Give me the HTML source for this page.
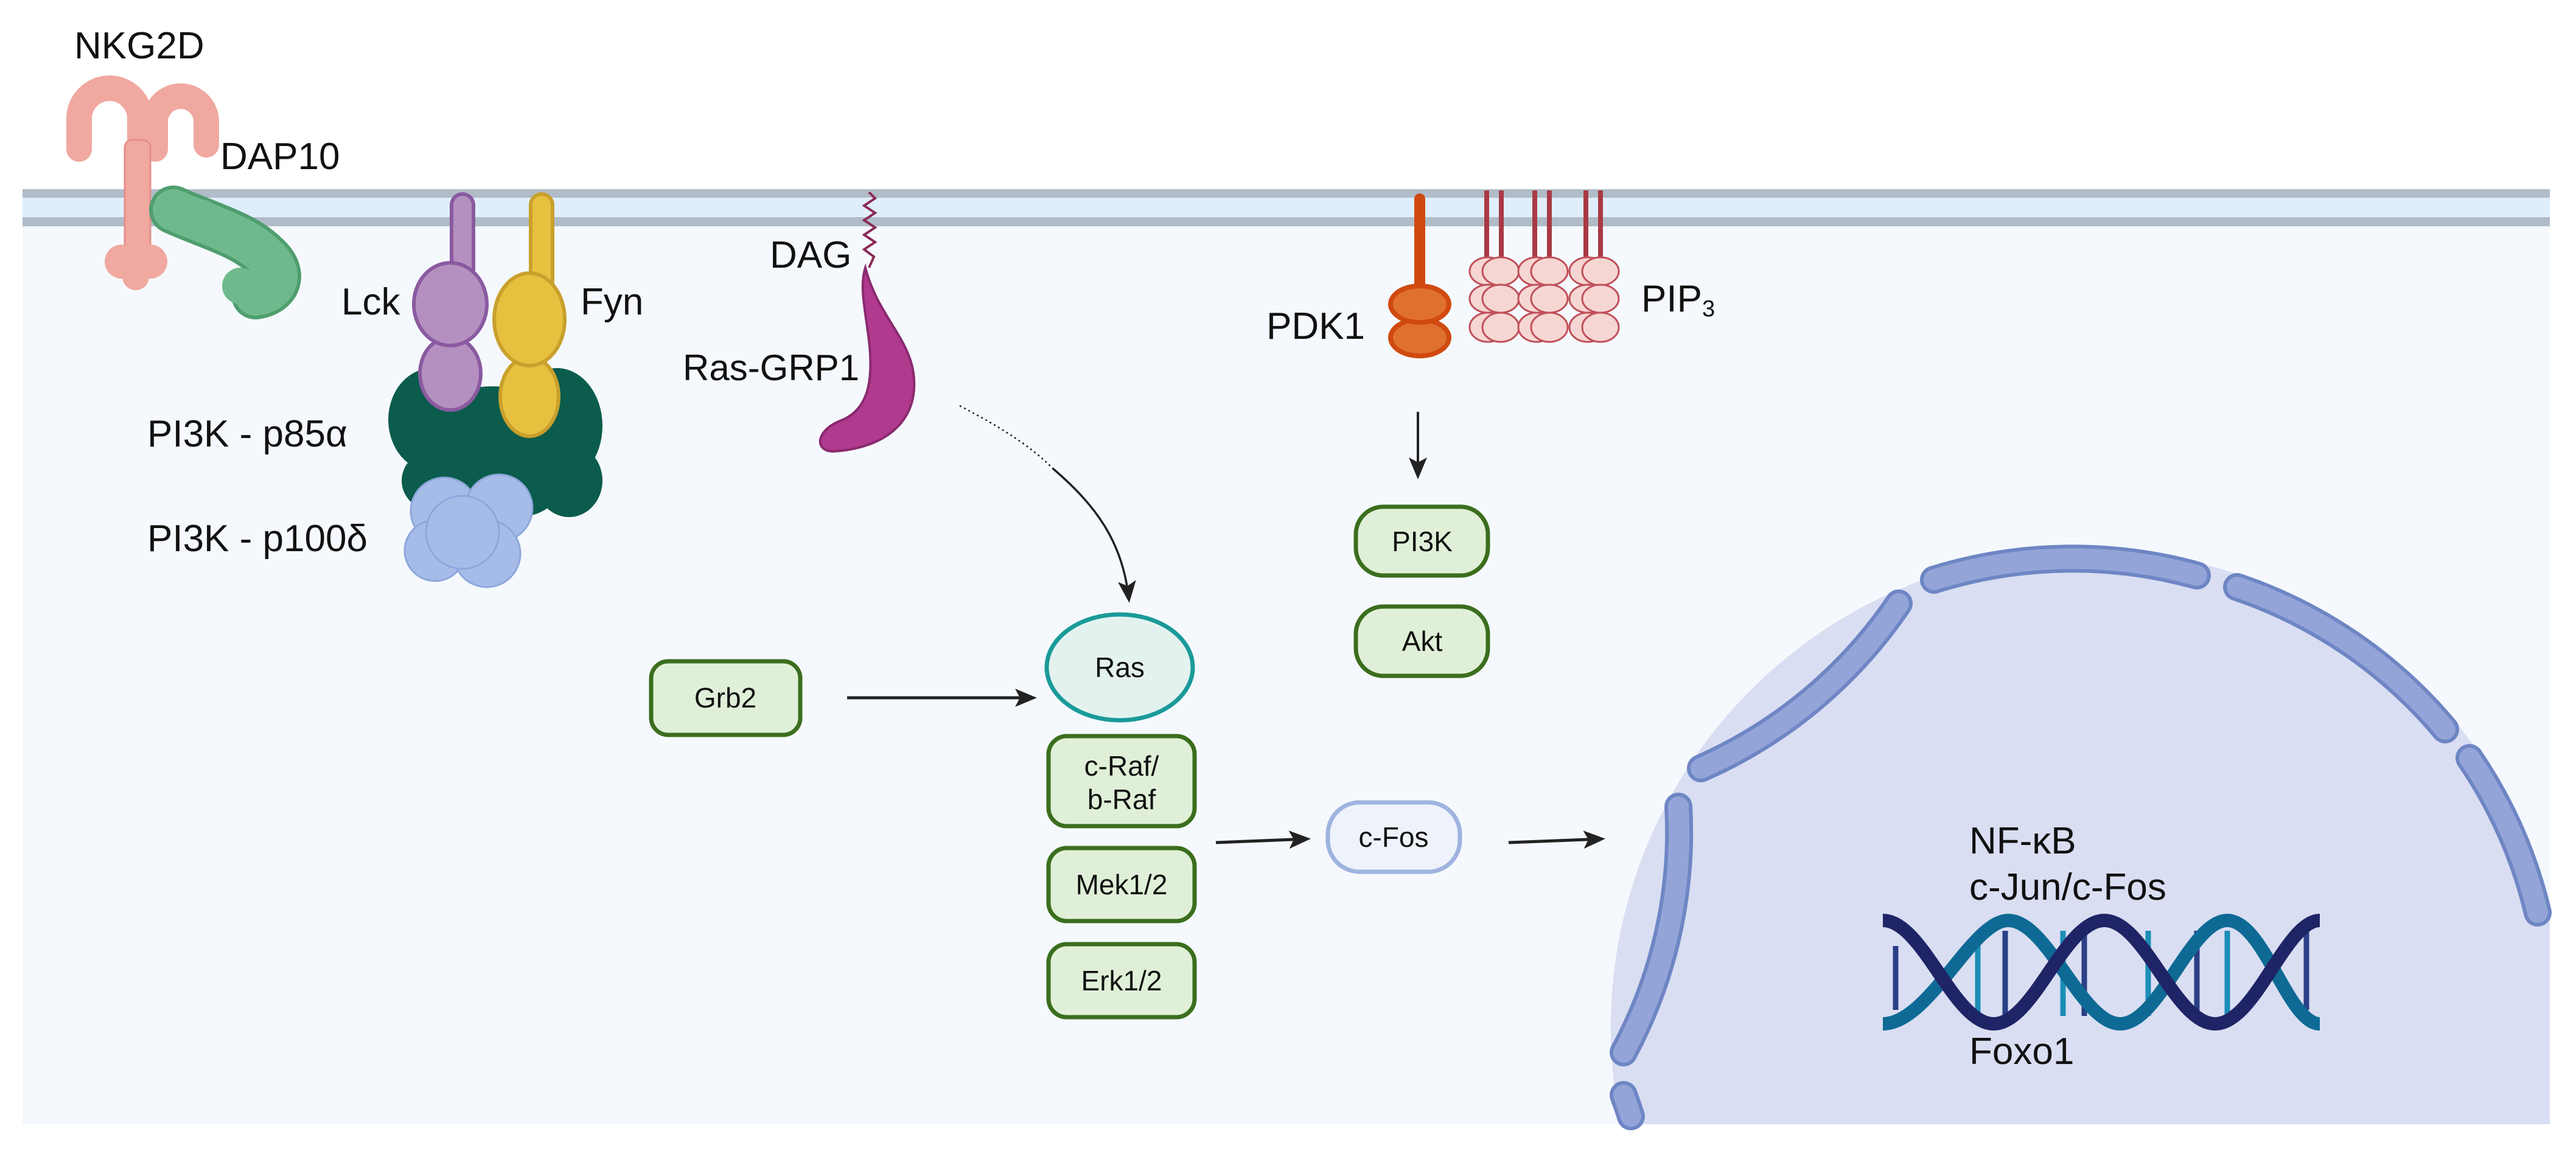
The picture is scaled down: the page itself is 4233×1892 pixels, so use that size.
<!DOCTYPE html>
<html><head><meta charset="utf-8"><style>
html,body{margin:0;padding:0;background:#fff;width:4233px;height:1892px;overflow:hidden}
svg{display:block;overflow:hidden}
text{font-family:"Liberation Sans",sans-serif;fill:#111}
</style></head><body>
<svg width="4233" height="1892" viewBox="0 0 4233 1892" xmlns="http://www.w3.org/2000/svg">
<defs>
<marker id="ah2" markerWidth="36" markerHeight="30" refX="30" refY="15" orient="auto" markerUnits="userSpaceOnUse" viewBox="0 0 36 30">
<path d="M0,0 L36,15 L0,30 L8,15 Z" fill="#222"/></marker>
</defs>
<rect x="37" y="311" width="4153" height="1537" fill="#f5f9fd"/>
<rect x="37" y="311" width="4153" height="14" fill="#b0bcc7"/>
<rect x="37" y="325" width="4153" height="32" fill="#e0eefb"/>
<rect x="37" y="357" width="4153" height="15" fill="#b0bcc7"/>

<path d="M2663,1848 A785,785 0 0 1 4190,1486 L4190,1848 Z" fill="#d9def2"/>
<g fill="none" stroke="#6e86c4" stroke-width="46" stroke-linecap="round">
<path d="M3178,953 A765,765 0 0 1 3610,946"/>
<path d="M3676,965 A765,765 0 0 1 4018,1199"/>
<path d="M4058,1246 A765,765 0 0 1 4170,1500"/>
<path d="M3120,992 A765,765 0 0 1 2795,1263"/>
<path d="M2758,1326 A765,765 0 0 1 2668,1730"/>
<path d="M2668,1800 A765,765 0 0 1 2680,1835"/>
</g>
<g fill="none" stroke="#93a5d8" stroke-width="34" stroke-linecap="round">
<path d="M3178,953 A765,765 0 0 1 3610,946"/>
<path d="M3676,965 A765,765 0 0 1 4018,1199"/>
<path d="M4058,1246 A765,765 0 0 1 4170,1500"/>
<path d="M3120,992 A765,765 0 0 1 2795,1263"/>
<path d="M2758,1326 A765,765 0 0 1 2668,1730"/>
<path d="M2668,1800 A765,765 0 0 1 2680,1835"/>
</g>

<g stroke-width="9">
<line x1="3115" y1="1555" x2="3115" y2="1660" stroke="#2a3f86"/>
<line x1="3250" y1="1535" x2="3250" y2="1670" stroke="#1b8db5"/>
<line x1="3295" y1="1530" x2="3295" y2="1670" stroke="#2a3f86"/>
<line x1="3390" y1="1530" x2="3390" y2="1670" stroke="#1b8db5"/>
<line x1="3425" y1="1530" x2="3425" y2="1670" stroke="#2a3f86"/>
<line x1="3530" y1="1530" x2="3530" y2="1670" stroke="#1b8db5"/>
<line x1="3610" y1="1530" x2="3610" y2="1670" stroke="#2a3f86"/>
<line x1="3660" y1="1530" x2="3660" y2="1670" stroke="#1b8db5"/>
<line x1="3790" y1="1530" x2="3790" y2="1660" stroke="#2a3f86"/>
</g>
<path d="M3094,1683 C3170,1683 3240,1513 3300,1513 C3365,1513 3420,1683 3484,1683 C3548,1683 3600,1513 3660,1513 C3720,1513 3760,1683 3812,1683" fill="none" stroke="#0e6a95" stroke-width="22"/>
<path d="M3094,1513 C3160,1513 3210,1683 3276,1683 C3342,1683 3392,1513 3458,1513 C3524,1513 3574,1683 3640,1683 C3706,1683 3756,1513 3812,1513" fill="none" stroke="#1f2466" stroke-width="22"/>

<text x="3236" y="1403" font-size="62">NF-κB</text>
<text x="3236" y="1479" font-size="62">c-Jun/c-Fos</text>
<text x="3236" y="1749" font-size="62">Foxo1</text>

<g fill="none" stroke="#f0a8a0" stroke-width="42" stroke-linecap="round">
<path d="M130,245 L130,195 A50,50 0 0 1 230,195 L230,240"/>
<path d="M255,245 L255,200 A42,42 0 0 1 339,200 L339,238"/>
</g>
<rect x="205" y="230" width="42" height="210" rx="12" fill="#f0a8a0" stroke="#e48e88" stroke-width="3"/>
<circle cx="200" cy="430" r="28" fill="#f0a8a0"/>
<circle cx="247" cy="430" r="28" fill="#f0a8a0"/>
<circle cx="223" cy="455" r="22" fill="#f0a8a0"/>
<text x="122" y="96" font-size="62">NKG2D</text>
<text x="362" y="278" font-size="62">DAP10</text>

<g fill="none" stroke-linecap="round">
<path d="M285,345 C340,370 400,385 435,420 C470,450 455,480 420,485" stroke="#4f9e6f" stroke-width="80"/>
<path d="M285,345 C340,370 400,385 435,420 C470,450 455,480 420,485" stroke="#6fba8c" stroke-width="68"/>
</g>
<g fill="#6fba8c"><circle cx="450" cy="470" r="30"/><circle cx="395" cy="470" r="30"/><circle cx="330" cy="360" r="32"/></g>

<g fill="#0b5c4c">
<ellipse cx="710" cy="690" rx="72" ry="85"/>
<ellipse cx="915" cy="700" rx="75" ry="95"/>
<ellipse cx="810" cy="730" rx="140" ry="95"/>
<ellipse cx="935" cy="790" rx="55" ry="60"/>
<ellipse cx="725" cy="790" rx="65" ry="55"/>
<ellipse cx="850" cy="800" rx="70" ry="50"/>
</g>
<g fill="#a6bce8" stroke="#8ea6dc" stroke-width="3">
<circle cx="730" cy="840" r="55"/>
<circle cx="820" cy="835" r="55"/>
<circle cx="715" cy="905" r="50"/>
<circle cx="800" cy="910" r="55"/>
<circle cx="760" cy="875" r="60"/>
</g>
<g fill="#b490c0" stroke="#8a5aa0" stroke-width="6">
<rect x="742" y="319" width="36" height="150" rx="18"/>
<ellipse cx="740" cy="614" rx="50" ry="60"/>
<ellipse cx="740" cy="500" rx="60" ry="68"/>
</g>
<g fill="#e8c040" stroke="#c9a02c" stroke-width="6">
<rect x="872" y="319" width="36" height="160" rx="18"/>
<ellipse cx="870" cy="652" rx="48" ry="65"/>
<ellipse cx="870" cy="525" rx="58" ry="76"/>
</g>
<text x="561" y="517" font-size="62">Lck</text>
<text x="954" y="517" font-size="62">Fyn</text>
<text x="242" y="734" font-size="62">PI3K - p85α</text>
<text x="242" y="906" font-size="62">PI3K - p100δ</text>

<path d="M1428,316 L1438,326 L1420,338 L1438,350 L1420,362 L1438,374 L1420,386 L1438,398 L1420,410 L1436,422 L1428,440" fill="none" stroke="#8a2a55" stroke-width="4"/>
<path d="M1422,440 C1442,520 1500,560 1502,625 C1506,700 1445,738 1368,742 C1336,740 1342,705 1385,690 C1425,672 1436,630 1428,560 C1422,510 1412,470 1422,440 Z" fill="#b03a8e" stroke="#8a2a70" stroke-width="4"/>
<text x="1265" y="440" font-size="62">DAG</text>
<text x="1122" y="625" font-size="60">Ras-GRP1</text>

<rect x="2324" y="318" width="18" height="160" rx="9" fill="#d04a10"/>
<ellipse cx="2333" cy="555" rx="48" ry="30" fill="#e07030" stroke="#d04a10" stroke-width="8"/>
<ellipse cx="2333" cy="500" rx="48" ry="30" fill="#e07030" stroke="#d04a10" stroke-width="8"/>
<text x="2081" y="557" font-size="62">PDK1</text>
<g stroke="#a83a44" stroke-width="8">
<line x1="2443" y1="313" x2="2443" y2="425"/><line x1="2467" y1="313" x2="2467" y2="425"/>
<line x1="2522" y1="313" x2="2522" y2="425"/><line x1="2546" y1="313" x2="2546" y2="425"/>
<line x1="2606" y1="313" x2="2606" y2="425"/><line x1="2630" y1="313" x2="2630" y2="425"/>
</g>
<g fill="#f6d6d3" stroke="#c0505a" stroke-width="3">
<ellipse cx="2445" cy="446" rx="30" ry="23"/><ellipse cx="2466" cy="446" rx="30" ry="23"/>
<ellipse cx="2525" cy="446" rx="30" ry="23"/><ellipse cx="2546" cy="446" rx="30" ry="23"/>
<ellipse cx="2609" cy="446" rx="30" ry="23"/><ellipse cx="2630" cy="446" rx="30" ry="23"/>
<ellipse cx="2445" cy="491" rx="30" ry="23"/><ellipse cx="2466" cy="491" rx="30" ry="23"/>
<ellipse cx="2525" cy="491" rx="30" ry="23"/><ellipse cx="2546" cy="491" rx="30" ry="23"/>
<ellipse cx="2609" cy="491" rx="30" ry="23"/><ellipse cx="2630" cy="491" rx="30" ry="23"/>
<ellipse cx="2445" cy="538" rx="30" ry="24"/><ellipse cx="2466" cy="538" rx="30" ry="24"/>
<ellipse cx="2525" cy="538" rx="30" ry="24"/><ellipse cx="2546" cy="538" rx="30" ry="24"/>
<ellipse cx="2609" cy="538" rx="30" ry="24"/><ellipse cx="2630" cy="538" rx="30" ry="24"/>
</g>
<text x="2697" y="512" font-size="62">PIP<tspan font-size="38" dy="8">3</tspan></text>

<path d="M1577,667 C1640,700 1690,730 1730,770" fill="none" stroke="#222" stroke-width="2.5" stroke-dasharray="3,5"/>
<path d="M1730,770 C1800,830 1845,890 1855,985" fill="none" stroke="#222" stroke-width="3.5" marker-end="url(#ah2)"/>
<line x1="2330" y1="677" x2="2330" y2="782" stroke="#222" stroke-width="4" marker-end="url(#ah2)"/>
<line x1="1392" y1="1147" x2="1698" y2="1147" stroke="#222" stroke-width="5" marker-end="url(#ah2)"/>
<line x1="1998" y1="1385" x2="2148" y2="1379" stroke="#222" stroke-width="5" marker-end="url(#ah2)"/>
<line x1="2479" y1="1385" x2="2632" y2="1379" stroke="#222" stroke-width="5" marker-end="url(#ah2)"/>

<g fill="#e0f0d8" stroke="#3b6e1e" stroke-width="7">
<rect x="1070" y="1087" width="245" height="121" rx="28"/>
<rect x="1723" y="1210" width="240" height="148" rx="30"/>
<rect x="1723" y="1394" width="240" height="120" rx="30"/>
<rect x="1723" y="1552" width="240" height="120" rx="30"/>
<rect x="2228" y="833" width="217" height="113" rx="45"/>
<rect x="2228" y="997" width="217" height="114" rx="45"/>
</g>
<ellipse cx="1840" cy="1097" rx="120" ry="87" fill="#e3f2ee" stroke="#1a9a9a" stroke-width="7"/>
<rect x="2182" y="1319" width="217" height="114" rx="52" fill="#eef2fb" stroke="#9fb3e0" stroke-width="7"/>
<g font-size="46" text-anchor="middle">
<text x="1192" y="1163">Grb2</text>
<text x="1840" y="1113">Ras</text>
<text x="1843" y="1275">c-Raf/</text>
<text x="1843" y="1330">b-Raf</text>
<text x="1843" y="1470">Mek1/2</text>
<text x="1843" y="1628">Erk1/2</text>
<text x="2337" y="906">PI3K</text>
<text x="2337" y="1070">Akt</text>
<text x="2290" y="1392">c-Fos</text>
</g>
</svg>
</body></html>
